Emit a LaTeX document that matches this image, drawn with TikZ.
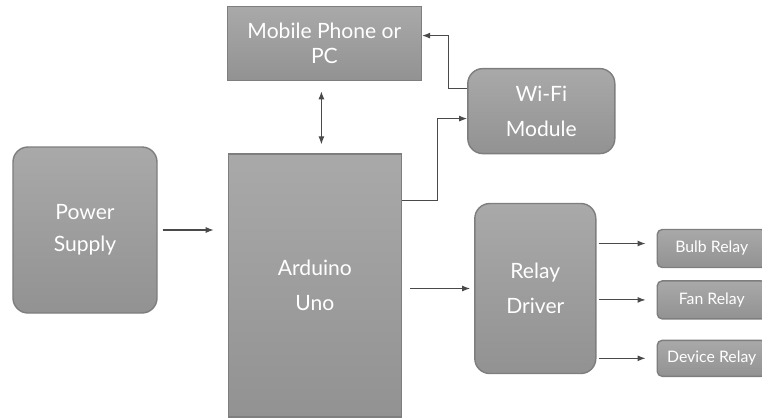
\documentclass[tikz,border=0pt]{standalone}
\usepackage{fontspec}
\setmainfont{Lato}
\usetikzlibrary{arrows.meta, positioning, calc}

\definecolor{boxtop}{HTML}{A9A9A9}
\definecolor{boxbot}{HTML}{929292}
\definecolor{boxline}{HTML}{7E7E7E}
\definecolor{wire}{HTML}{4A4A4A}

\begin{document}
\begin{tikzpicture}[
  block/.style = {draw=boxline, line width=0.8pt, top color=boxtop, bottom color=boxbot, text=white, align=center, font=\large},
  roundblock/.style = {block, rounded corners=0.3cm},
  relay/.style = {block, rounded corners=0.1cm, minimum width=2.18cm, font=\small},
  line/.style = {wire, line width=0.6pt, -{Latex[length=1.6mm, width=1.2mm]}},
  dline/.style = {wire, line width=0.6pt, {Latex[length=1.6mm, width=1.2mm]}-{Latex[length=1.6mm, width=1.2mm]}}
]

  \useasboundingbox (0,0) rectangle (15.24,-8.36);

  % Nodes
  \node[roundblock, minimum width=2.88cm, minimum height=3.32cm] (power) at (1.70,-4.60) {Power\\[4pt]Supply};
  \node[block, minimum width=3.46cm, minimum height=5.26cm, right=1.40cm of power, yshift=-1.11cm] (arduino) {Arduino\\[6pt]Uno};
  \node[block, minimum width=3.88cm, minimum height=1.48cm, above=1.44cm of arduino, xshift=0.19cm] (mobile) {Mobile Phone or\\PC};
  \node[roundblock, minimum width=2.94cm, minimum height=1.70cm, right=0.90cm of mobile, yshift=-1.35cm] (wifi) {Wi-Fi\\[6pt]Module};
  \node[roundblock, minimum width=2.42cm, minimum height=3.40cm, right=1.44cm of arduino, yshift=-0.06cm] (driver) {Relay\\[6pt]Driver};
  \node[relay, minimum height=0.76cm, right=1.20cm of driver, yshift=0.80cm] (bulb) {Bulb Relay};
  \node[relay, minimum height=0.76cm, below=0.24cm of bulb] (fan) {Fan Relay};
  \node[relay, minimum height=0.72cm, below=0.40cm of fan] (device) {Device Relay};

  % Connections
  \draw[line, shorten <=0.1cm, shorten >=0.28cm] (power.east) -- (power.east -| arduino.west);
  \draw[dline, shorten <=0.2cm, shorten >=0.18cm] ([xshift=-0.06cm]mobile.south) -- ([xshift=-0.06cm]mobile.south |- arduino.north);
  \draw[line] ([yshift=0.45cm]wifi.west) -- ++(-0.38,0) |- ([yshift=0.16cm]mobile.east);
  \draw[line] ([yshift=1.70cm]arduino.east) -- ++(0.70,0) |- ([yshift=-0.15cm]wifi.west);
  \draw[line, shorten <=0.16cm, shorten >=0.08cm] (driver.west -| arduino.east) -- (driver.west);

  % Relay outputs
  \foreach \r/\dy in {bulb/0.10, fan/0, device/0}
    \draw[line, shorten <=0.04cm, shorten >=0.22cm] ([yshift=\dy cm]\r.west -| driver.east) -- ([yshift=\dy cm]\r.west);

\end{tikzpicture}
\end{document}
